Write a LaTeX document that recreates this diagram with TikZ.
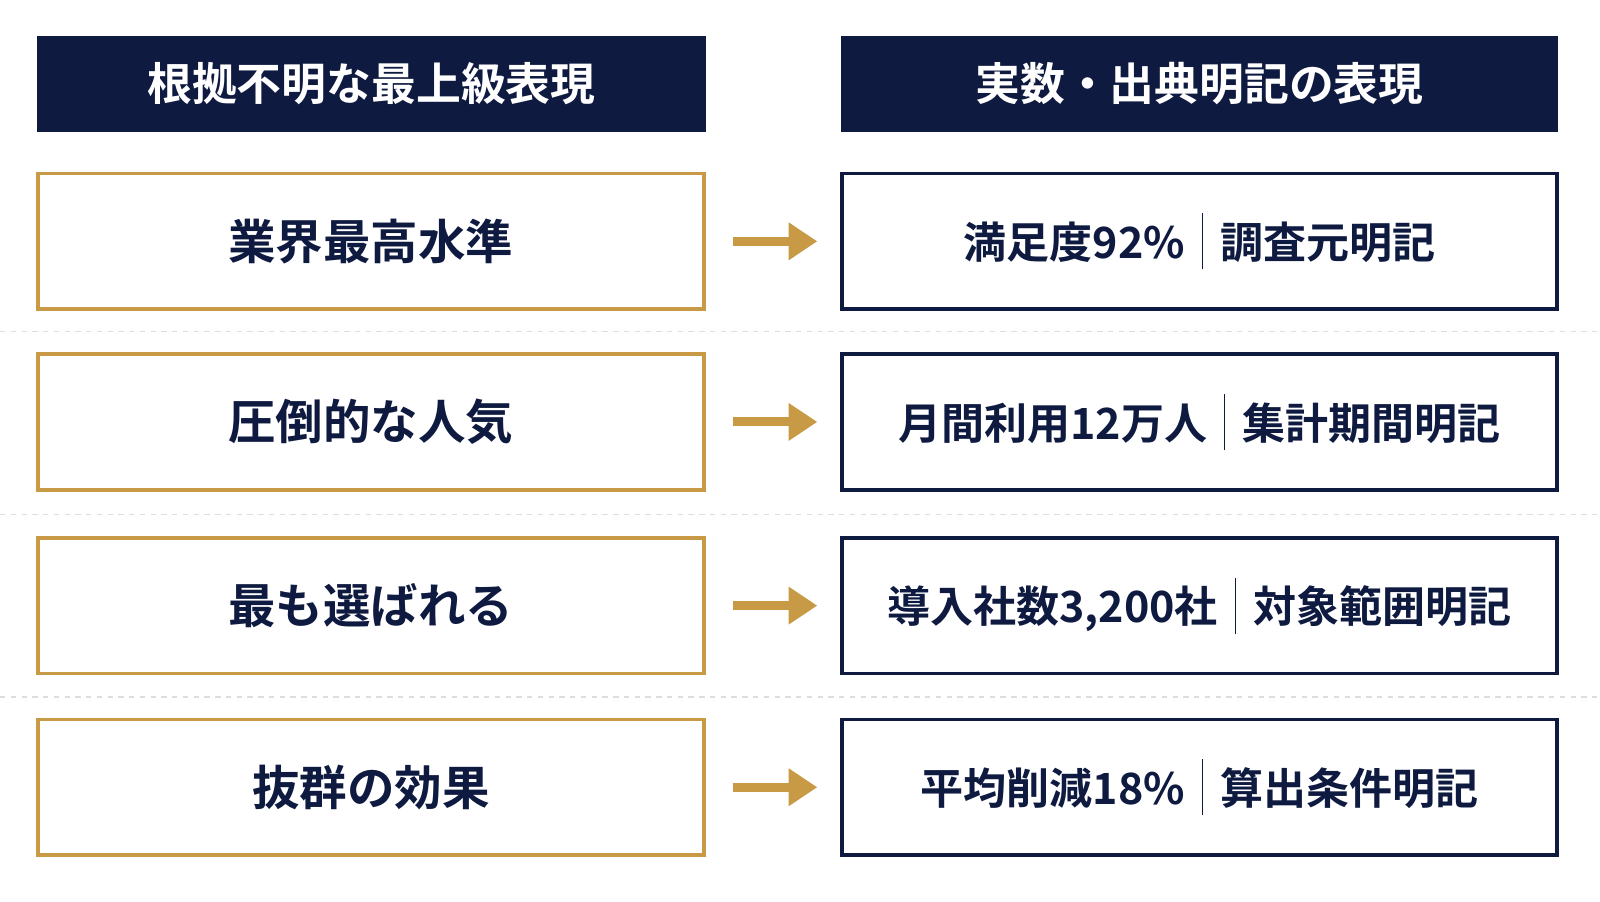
\documentclass[tikz,border=0pt]{standalone}
\usepackage{fontspec}
\usetikzlibrary{arrows.meta}
\newfontfamily\cjk{Noto Sans CJK JP}[BoldFont={* Bold}]
\definecolor{navy}{HTML}{0E1A40}
\definecolor{gold}{HTML}{C99A45}
\definecolor{sep}{HTML}{DDDDDD}
\newcommand{\vsepbar}{\hspace{0.4em}\rule[-0.25em]{0.6pt}{1.3em}\hspace{0.4em}}
\begin{document}
\begin{tikzpicture}[x=0.02cm,y=-0.02cm,
  hdr/.style={fill=navy,draw=none,text=white,font=\cjk\bfseries\fontsize{25}{29}\selectfont},
  lbox/.style={draw=gold,line width=2pt,fill=white,text=navy,font=\cjk\bfseries\fontsize{26.5}{30}\selectfont},
  rbox/.style={draw=navy,line width=2pt,fill=white,text=navy,font=\cjk\bfseries\fontsize{24}{28}\selectfont},
  arr/.style={-{Triangle[length=16pt,width=20pt]},line width=5pt,gold},
  sp/.style={sep,dashed,line width=0.8pt}]
\useasboundingbox[fill=white] (0,0) rectangle (1568,883);
\node[hdr,minimum width=656*0.02cm,minimum height=94*0.02cm] (h1) at (364,82) {根拠不明な最上級表現};
\node[hdr,minimum width=703*0.02cm,minimum height=94*0.02cm] (h2) at (1175.5,82) {実数・出典明記の表現};
\foreach \i/\y in {1/325,2/504,3/683}{\draw[sp] (0,\y) -- (1568,\y);}
\foreach \i/\y/\l/\r in {1/236.5/業界最高水準/{満足度92\%\vsepbar 調査元明記},
  2/413.5/圧倒的な人気/{月間利用12万人\vsepbar 集計期間明記},
  3/593.5/最も選ばれる/{導入社数3,200社\vsepbar 対象範囲明記},
  4/771.5/抜群の効果/{平均削減18\%\vsepbar 算出条件明記}}{
  \node[lbox,minimum width=653*0.02cm,minimum height=133*0.02cm] (l\i) at (363.5,\y) {\l};
  \node[rbox,minimum width=701*0.02cm,minimum height=133*0.02cm] (r\i) at (1175.5,\y) {\r};
  \coordinate (a\i) at (718,\y); \coordinate (b\i) at (801,\y);
  \draw[arr] (a\i) -- (b\i);
}
\end{tikzpicture}
\end{document}
